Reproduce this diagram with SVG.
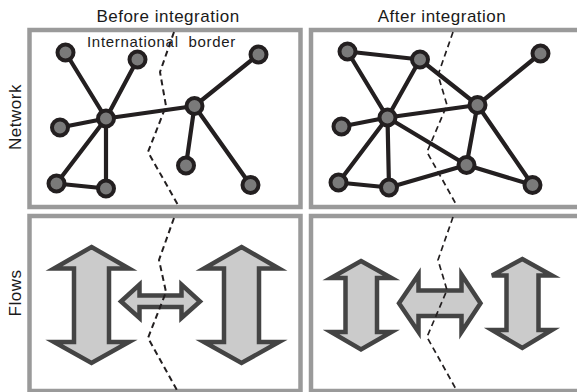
<svg xmlns="http://www.w3.org/2000/svg" width="577" height="392" viewBox="0 0 577 392">
<style>
.panel{fill:#fff;stroke:#9a9a9a;stroke-width:4.5}
.lbl{font-family:"Liberation Sans",Arial,sans-serif;font-size:17px;fill:#1a1a1a;letter-spacing:0.5px}
.small{font-family:"Liberation Sans",Arial,sans-serif;font-size:15px;fill:#1a1a1a;letter-spacing:0.7px}
.edge{stroke:#231f20;stroke-width:4.2;stroke-linecap:round}
.node{fill:#7a7a7a;stroke:#231f20;stroke-width:4}
.border{fill:none;stroke:#231f20;stroke-width:2;stroke-dasharray:6 4}
.border2{fill:none;stroke:#231f20;stroke-width:1.7;stroke-dasharray:6 4}
.arrow{fill:#cbcbcb;stroke:#444;stroke-width:4.5;stroke-linejoin:miter}
</style>
<rect width="577" height="392" fill="#fff"/>
<g id="panels">
<rect class="panel" x="29.5" y="30" width="271" height="177"/>
<rect class="panel" x="311" y="30" width="290" height="177"/>
<rect class="panel" x="29.5" y="216" width="271" height="175"/>
<rect class="panel" x="311" y="216" width="290" height="175"/>
</g>
<g id="titles">
<text class="lbl" x="168" y="22" text-anchor="middle">Before integration</text>
<text class="lbl" x="442" y="22" text-anchor="middle">After integration</text>
<text class="lbl" transform="translate(21,117) rotate(-90)" text-anchor="middle">Network</text>
<text class="lbl" transform="translate(21,293) rotate(-90)" text-anchor="middle">Flows</text>
</g>
<g id="connectors">
<line class="edge" x1="65.5" y1="52.5" x2="106" y2="118.5"/>
<line class="edge" x1="137.5" y1="59.5" x2="106" y2="118.5"/>
<line class="edge" x1="60" y1="127.5" x2="106" y2="118.5"/>
<line class="edge" x1="56.5" y1="183.5" x2="106" y2="118.5"/>
<line class="edge" x1="106" y1="188.5" x2="106" y2="118.5"/>
<line class="edge" x1="56.5" y1="183.5" x2="106" y2="188.5"/>
<line class="edge" x1="106" y1="118.5" x2="194.5" y2="106"/>
<line class="edge" x1="194.5" y1="106" x2="258.5" y2="54.5"/>
<line class="edge" x1="194.5" y1="106" x2="186" y2="165.5"/>
<line class="edge" x1="194.5" y1="106" x2="250.5" y2="185"/>
<line class="edge" x1="347.5" y1="51.5" x2="420" y2="59.5"/>
<line class="edge" x1="347.5" y1="51.5" x2="387.5" y2="117.5"/>
<line class="edge" x1="420" y1="59.5" x2="387.5" y2="117.5"/>
<line class="edge" x1="420" y1="59.5" x2="477.5" y2="105"/>
<line class="edge" x1="341.5" y1="126.5" x2="387.5" y2="117.5"/>
<line class="edge" x1="338.5" y1="182.5" x2="387.5" y2="117.5"/>
<line class="edge" x1="389" y1="187.5" x2="387.5" y2="117.5"/>
<line class="edge" x1="387.5" y1="117.5" x2="477.5" y2="105"/>
<line class="edge" x1="387.5" y1="117.5" x2="466.5" y2="165"/>
<line class="edge" x1="338.5" y1="182.5" x2="389" y2="187.5"/>
<line class="edge" x1="389" y1="187.5" x2="466.5" y2="165"/>
<line class="edge" x1="477.5" y1="105" x2="540.5" y2="53.5"/>
<line class="edge" x1="477.5" y1="105" x2="466.5" y2="165"/>
<line class="edge" x1="477.5" y1="105" x2="532.5" y2="185"/>
<line class="edge" x1="466.5" y1="165" x2="532.5" y2="185"/>
</g>
<g id="nodes-before">
<circle id="n1" class="node" cx="65.5" cy="52.5" r="8"/>
<circle id="n2" class="node" cx="137.5" cy="59.5" r="8"/>
<circle id="n3" class="node" cx="106" cy="118.5" r="8"/>
<circle id="n4" class="node" cx="60" cy="127.5" r="8"/>
<circle id="n5" class="node" cx="56.5" cy="183.5" r="8"/>
<circle id="n6" class="node" cx="106" cy="188.5" r="8"/>
<circle id="n7" class="node" cx="194.5" cy="106" r="8"/>
<circle id="n8" class="node" cx="258.5" cy="54.5" r="8"/>
<circle id="n9" class="node" cx="186" cy="165.5" r="8"/>
<circle id="n10" class="node" cx="250.5" cy="185" r="8"/>
</g>
<g id="nodes-after">
<circle id="m1" class="node" cx="347.5" cy="51.5" r="8"/>
<circle id="m2" class="node" cx="420" cy="59.5" r="8"/>
<circle id="m3" class="node" cx="387.5" cy="117.5" r="8"/>
<circle id="m4" class="node" cx="341.5" cy="126.5" r="8"/>
<circle id="m5" class="node" cx="338.5" cy="182.5" r="8"/>
<circle id="m6" class="node" cx="389" cy="187.5" r="8"/>
<circle id="m7" class="node" cx="477.5" cy="105" r="8"/>
<circle id="m8" class="node" cx="540.5" cy="53.5" r="8"/>
<circle id="m9" class="node" cx="466.5" cy="165" r="8"/>
<circle id="m10" class="node" cx="532.5" cy="185" r="8"/>
</g>
<g id="flows-before">
<path class="arrow" d="M91.5,247 L129,268.5 L109,268.5 L109,342 L129,342 L91.5,363 L54,342 L74,342 L74,268.5 L54,268.5 Z"/>
<path class="arrow" d="M241.5,247 L279,268.5 L259,268.5 L259,342 L279,342 L241.5,363 L204,342 L224,342 L224,268.5 L204,268.5 Z"/>
<path class="arrow" d="M121,301.5 L139.5,284.5 L139.5,295.5 L181.5,295.5 L181.5,284.5 L200,301.5 L181.5,318 L181.5,307 L139.5,307 L139.5,318 Z"/>
</g>
<g id="flows-after">
<path class="arrow" d="M361,261 L391.5,278 L377,278 L377,332 L391.5,332 L361,349.5 L331,332 L345.5,332 L345.5,278 L331,278 Z"/>
<path class="arrow" d="M522.3,259 L552,275.5 L538.5,275.5 L538.5,330 L552,330 L522.3,348 L492,330 L506.5,330 L506.5,275.5 L492,275.5 Z"/>
<path class="arrow" d="M399,303.3 L418.5,274.5 L418.5,290.5 L461.5,290.5 L461.5,274.5 L480.5,303.3 L461.5,332 L461.5,316 L418.5,316 L418.5,332 Z"/>
</g>
<g id="border-label">
<text class="small" x="87" y="47" xml:space="preserve">International  border</text>
</g>
<g id="borders">
<polyline class="border" points="174,32 160,72 166,106 148,152 178,205"/>
<polyline class="border" points="174,218 159,260 166,292 148,338 178,392"/>
<polyline class="border2" points="453,32 438,75 447,105 427,152 457,206"/>
<polyline class="border2" points="453,217 438,260 447,290 427,337 457,391"/>
</g>
</svg>
